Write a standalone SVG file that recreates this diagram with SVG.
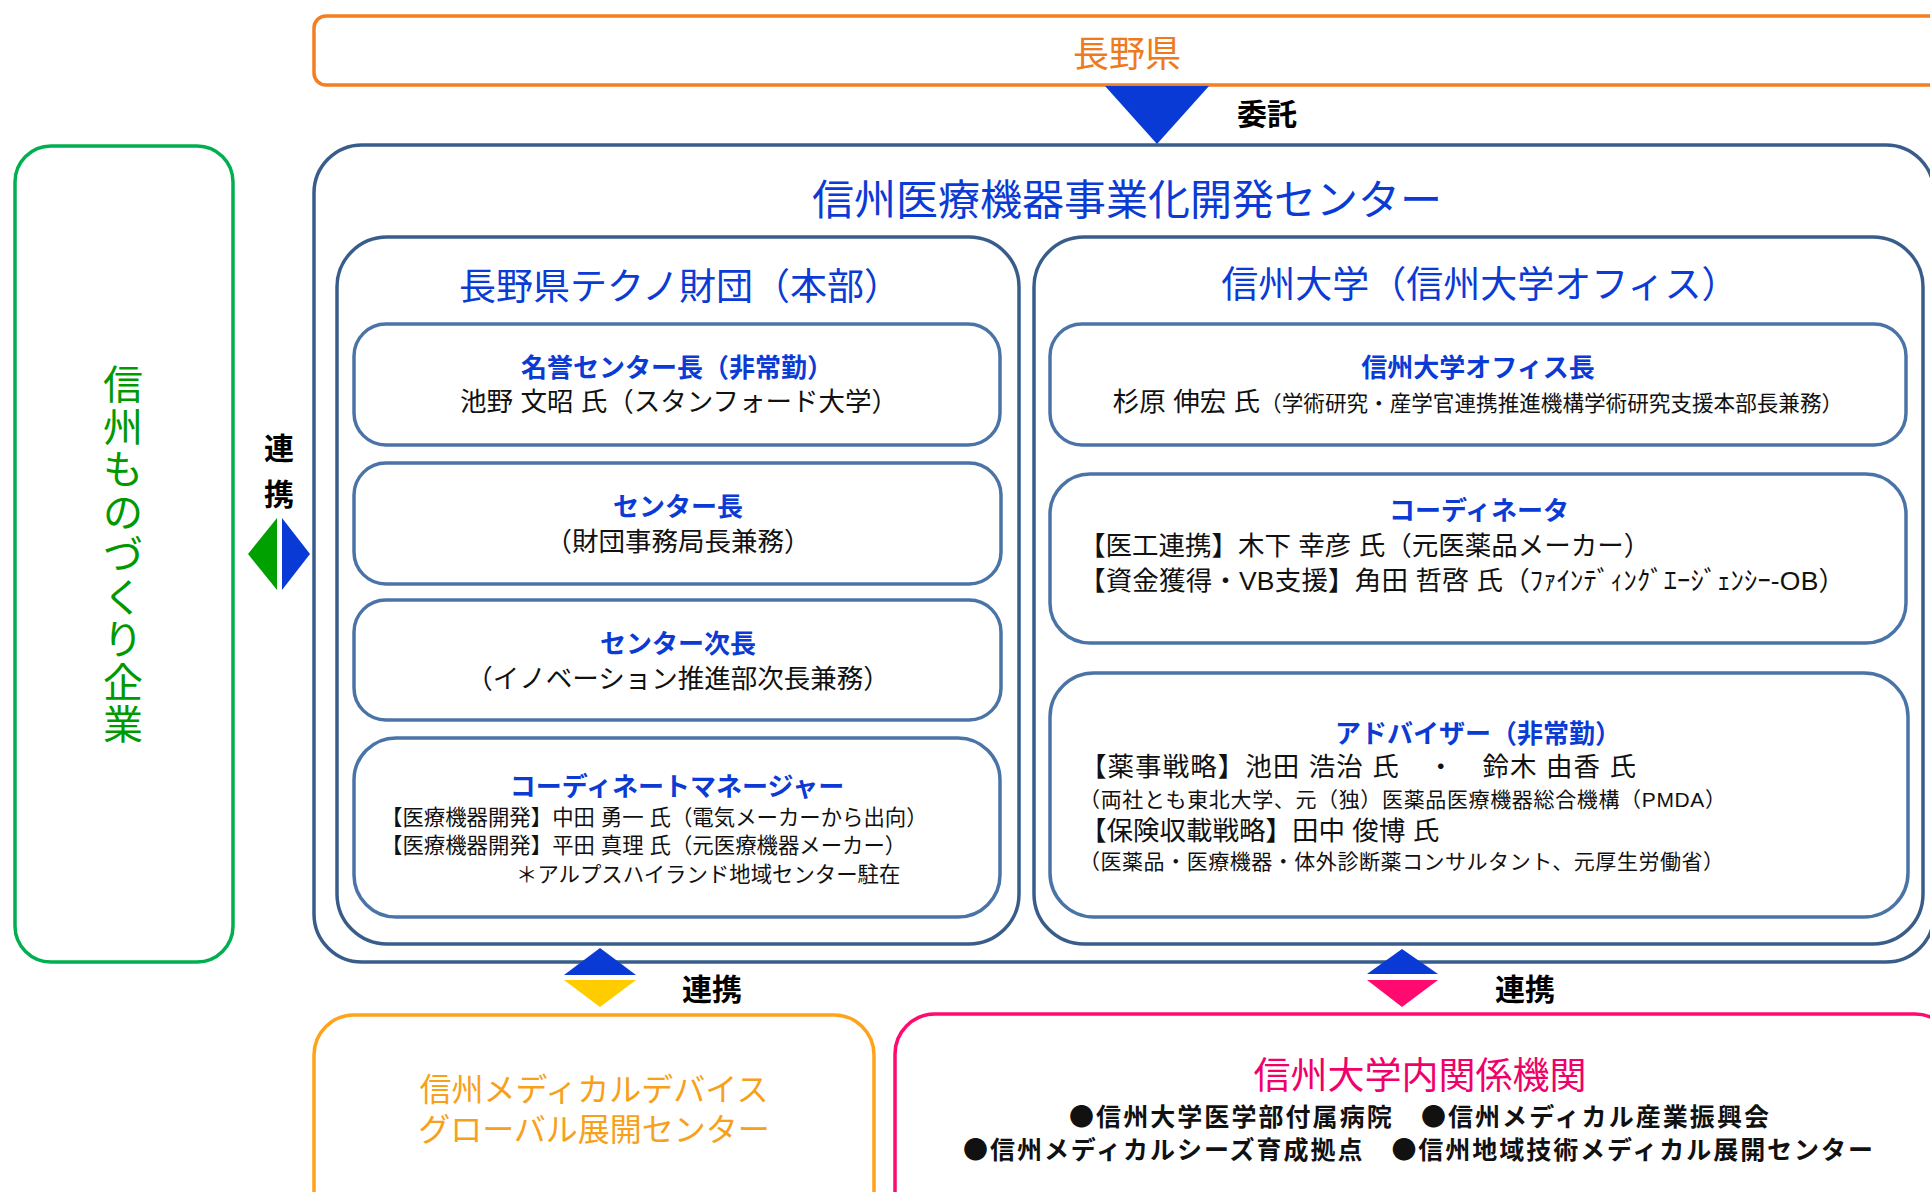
<svg xmlns="http://www.w3.org/2000/svg" width="1930" height="1192" viewBox="0 0 1930 1192">
<style>
text{font-family:"Liberation Sans","Noto Sans CJK JP",sans-serif}
.outer{fill:#fff;stroke:#385D8A;stroke-width:3.5}
.inner{fill:#fff;stroke:#4A74A8;stroke-width:3.5}
.hd{fill:#0B3BD4;font-size:37px;text-anchor:middle}
.tt{fill:#0B3BD4;font-size:26px;font-weight:bold;text-anchor:middle}
.bd{fill:#111;font-size:26.5px}
.md{fill:#111;font-size:21.4px}
.c{text-anchor:middle}
.sm{fill:#111;font-size:21px}
.lab{fill:#000;font-weight:bold;font-size:30px}
.blt{font-family:"Noto Sans CJK JP","Noto Sans CJK SC",sans-serif;fill:#111;font-size:25px;font-weight:bold;text-anchor:middle}
</style>
<rect width="1930" height="1192" fill="#fff"/>

<g id="nagano">
<rect x="314" y="16" width="1640" height="69" rx="12" fill="#fff" stroke="#F47E20" stroke-width="3.5"/>
<text x="1127" y="67" font-size="36" fill="#EE7A1E" text-anchor="middle">長野県</text>
</g>

<g id="center">
<rect class="outer" x="314" y="145" width="1620" height="817" rx="48"/>
<text x="1127" y="215" font-size="42" fill="#0B3BD4" text-anchor="middle">信州医療機器事業化開発センター</text>
</g>

<g id="techno">
<rect class="outer" x="337" y="237" width="682" height="707" rx="50"/>
<text class="hd" x="680" y="300">長野県テクノ財団（本部）</text>
</g>

<g id="meiyo">
<rect class="inner" x="354" y="324" width="646" height="121" rx="32"/>
<text class="tt" x="677" y="377">名誉センター長（非常勤）</text>
<text class="bd c" x="679" y="411">池野 文昭 氏（スタンフォード大学）</text>
</g>

<g id="centerchief">
<rect class="inner" x="354" y="463" width="647" height="121" rx="32"/>
<text class="tt" x="678" y="516">センター長</text>
<text class="bd c" x="678" y="551">（財団事務局長兼務）</text>
</g>

<g id="vicechief">
<rect class="inner" x="354" y="600" width="647" height="120" rx="32"/>
<text class="tt" x="678" y="653">センター次長</text>
<text class="bd c" x="678" y="688">（イノベーション推進部次長兼務）</text>
</g>

<g id="coordmgr">
<rect class="inner" x="354" y="738" width="646" height="179" rx="42"/>
<text class="tt" x="677" y="796">コーディネートマネージャー</text>
<text class="md" x="381" y="825">【医療機器開発】中田 勇一 氏（電気メーカーから出向）</text>
<text class="md" x="381" y="853">【医療機器開発】平田 真理 氏（元医療機器メーカー）</text>
<text class="md" x="516" y="882">＊アルプスハイランド地域センター駐在</text>
</g>

<g id="shinshu">
<rect class="outer" x="1034" y="237" width="889" height="707" rx="50"/>
<text class="hd" x="1480" y="298">信州大学（信州大学オフィス）</text>
</g>

<g id="office">
<rect class="inner" x="1050" y="324" width="856" height="121" rx="32"/>
<text class="tt" x="1478" y="377">信州大学オフィス長</text>
<text class="bd c" x="1478" y="411">杉原 伸宏 氏<tspan font-size="21.6">（学術研究・産学官連携推進機構学術研究支援本部長兼務）</tspan></text>
</g>

<g id="coordinator">
<rect class="inner" x="1050" y="474" width="856" height="169" rx="40"/>
<text class="tt" x="1479" y="520">コーディネータ</text>
<text class="bd" x="1079" y="555">【医工連携】木下 幸彦 氏（元医薬品メーカー）</text>
<text class="bd" x="1079" y="590" textLength="766">【資金獲得・VB支援】角田 哲啓 氏（ﾌｧｲﾝﾃﾞｨﾝｸﾞｴｰｼﾞｪﾝｼｰ-OB）</text>
</g>

<g id="advisor">
<rect class="inner" x="1050" y="673" width="858" height="244" rx="44"/>
<text class="tt" x="1478" y="743">アドバイザー（非常勤）</text>
<text class="bd" x="1080" y="776" textLength="556">【薬事戦略】池田 浩治 氏　・　鈴木 由香 氏</text>
<text class="sm" x="1079" y="807" textLength="647">（両社とも東北大学、元（独）医薬品医療機器総合機構（PMDA）</text>
<text class="bd" x="1080" y="840">【保険収載戦略】田中 俊博 氏</text>
<text class="sm" x="1079" y="869" textLength="645">（医薬品・医療機器・体外診断薬コンサルタント、元厚生労働省）</text>
</g>

<g id="monozukuri">
<rect x="15" y="146" width="218" height="816" rx="36" fill="#fff" stroke="#00B050" stroke-width="3.5"/>
<text font-size="40" fill="#009A00" text-anchor="middle">
<tspan x="123" y="399">信</tspan><tspan x="123" y="441.5">州</tspan><tspan x="123" y="484">も</tspan><tspan x="123" y="526.5">の</tspan><tspan x="123" y="569">づ</tspan><tspan x="123" y="611.5">く</tspan><tspan x="123" y="654">り</tspan><tspan x="123" y="696.5">企</tspan><tspan x="123" y="739">業</tspan>
</text>
</g>

<g id="mdg">
<rect x="314" y="1015" width="560" height="220" rx="40" fill="#fff" stroke="#FFA31A" stroke-width="3.5"/>
<text x="594" y="1101" font-size="32" fill="#F7A11A" text-anchor="middle">信州メディカルデバイス</text>
<text x="594" y="1141" font-size="32" fill="#F7A11A" text-anchor="middle">グローバル展開センター</text>
</g>

<g id="univorgs">
<rect x="895" y="1014" width="1060" height="220" rx="40" fill="#fff" stroke="#FF0A6E" stroke-width="3.5"/>
<text x="1420" y="1089" font-size="37" fill="#F0006A" text-anchor="middle">信州大学内関係機関</text>
<text class="blt" x="1419" y="1126" textLength="700">●信州大学医学部付属病院　●信州メディカル産業振興会</text>
<text class="blt" x="1418" y="1159" textLength="910">●信州メディカルシーズ育成拠点　●信州地域技術メディカル展開センター</text>
</g>

<g id="connectors">
<polygon points="1105,86 1209,86 1157,144" fill="#0A3AD6"/>
<text class="lab" x="1237" y="125" font-size="31">委託</text>
<polygon points="248,554 277,518 277,590" fill="#00A000"/>
<polygon points="282,518 282,590 310,554" fill="#0A3AD6"/>
<text class="lab" x="279" y="459" text-anchor="middle" font-size="31">連</text>
<text class="lab" x="279" y="505" text-anchor="middle" font-size="31">携</text>
<polygon points="564,975 636,975 600,948" fill="#0A3AD6"/>
<polygon points="564,980 636,980 600,1007" fill="#FFCC00"/>
<text class="lab" x="682" y="1000">連携</text>
<polygon points="1367,974 1438,974 1402,949" fill="#0A3AD6"/>
<polygon points="1367,980 1438,980 1402,1007" fill="#FF0A6E"/>
<text class="lab" x="1495" y="1000">連携</text>
</g>
</svg>
